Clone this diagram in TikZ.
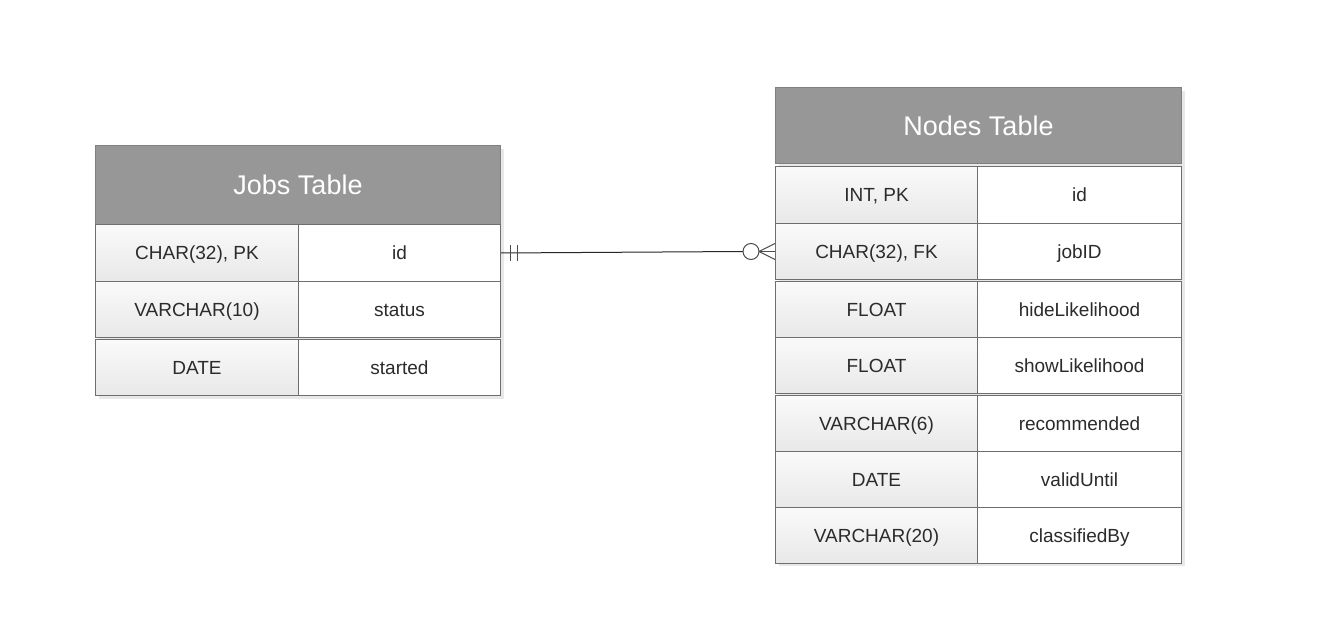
\documentclass[tikz,border=0pt]{standalone}
\usepackage{fontspec}
\setmainfont{Liberation Sans}
\usetikzlibrary{calc}
\definecolor{hdr}{HTML}{979797}
\definecolor{bord}{HTML}{6E6E6E}
\definecolor{txt}{HTML}{2B2B2B}
\definecolor{shad}{HTML}{E8E8E8}
\tikzset{
  hdrbox/.style={draw=hdr!85!black, fill=hdr, line width=1pt, rectangle, inner sep=0pt, anchor=north west,
    text=white, font=\fontsize{27}{32}\selectfont, text height=22pt, text depth=2pt},
  typecell/.style={draw=bord, line width=1pt, rectangle, inner sep=0pt, anchor=north west,
    top color=black!2, bottom color=black!9, text=txt, font=\fontsize{19}{23}\selectfont,
    text height=16pt, text depth=2pt},
  namecell/.style={draw=bord, line width=1pt, rectangle, inner sep=0pt, anchor=north west,
    fill=white, text=txt, font=\fontsize{19}{23}\selectfont, text height=16pt, text depth=2pt},
  shadowbox/.style={fill=shad, draw=none},
  relline/.style={line width=1pt, draw=black!85},
  relmark/.style={line width=1pt, draw=black!70}
}
\begin{document}
\begin{tikzpicture}[x=1pt,y=-1pt]
\useasboundingbox[fill=white] (0,0) rectangle (1320,628);
% shadows
\fill[shadowbox] (99,149) rectangle (504,399);
\fill[shadowbox] (779,91) rectangle (1185,566);
% Jobs table
\node[hdrbox, minimum width=405pt, minimum height=79pt] (jh) at (95,145) {Jobs Table};
\node[typecell, minimum width=203pt, minimum height=57pt] (jt1) at (95,224) {CHAR(32), PK};
\node[namecell, minimum width=202pt, minimum height=57pt] (jn1) at (298,224) {id};
\node[typecell, minimum width=203pt, minimum height=56pt] (jt2) at (95,281) {VARCHAR(10)};
\node[namecell, minimum width=202pt, minimum height=56pt] (jn2) at (298,281) {status};
\node[typecell, minimum width=203pt, minimum height=56pt] (jt3) at (95,339) {DATE};
\node[namecell, minimum width=202pt, minimum height=56pt] (jn3) at (298,339) {started};
% Nodes table
\node[hdrbox, minimum width=406pt, minimum height=76pt] (nh) at (775,87) {Nodes Table};
\node[typecell, minimum width=202pt, minimum height=57pt] (nt1) at (775,166) {INT, PK};
\node[namecell, minimum width=204pt, minimum height=57pt] (nn1) at (977,166) {id};
\node[typecell, minimum width=202pt, minimum height=56pt] (nt2) at (775,223) {CHAR(32), FK};
\node[namecell, minimum width=204pt, minimum height=56pt] (nn2) at (977,223) {jobID};
\node[typecell, minimum width=202pt, minimum height=56pt] (nt3) at (775,281) {FLOAT};
\node[namecell, minimum width=204pt, minimum height=56pt] (nn3) at (977,281) {hideLikelihood};
\node[typecell, minimum width=202pt, minimum height=56pt] (nt4) at (775,337) {FLOAT};
\node[namecell, minimum width=204pt, minimum height=56pt] (nn4) at (977,337) {showLikelihood};
\node[typecell, minimum width=202pt, minimum height=56pt] (nt5) at (775,395) {VARCHAR(6)};
\node[namecell, minimum width=204pt, minimum height=56pt] (nn5) at (977,395) {recommended};
\node[typecell, minimum width=202pt, minimum height=56pt] (nt6) at (775,451) {DATE};
\node[namecell, minimum width=204pt, minimum height=56pt] (nn6) at (977,451) {validUntil};
\node[typecell, minimum width=202pt, minimum height=56pt] (nt7) at (775,507) {VARCHAR(20)};
\node[namecell, minimum width=204pt, minimum height=56pt] (nn7) at (977,507) {classifiedBy};
% relationship
\coordinate (circ) at ($(nt2.west)+(-24,0)$);
\draw[relline] (jn1.east) -- ($(circ)+(-8,0)$);
\draw[relmark] ($(jn1.east)+(9,-8)$) -- ($(jn1.east)+(9,8)$);
\draw[relmark] ($(jn1.east)+(16,-8)$) -- ($(jn1.east)+(16,8)$);
\draw[relmark, fill=white] (circ) circle (8pt);
\draw[relmark] ($(circ)+(8,0)$) -- ($(nt2.west)+(0,-8)$);
\draw[relmark] ($(circ)+(8,0)$) -- ($(nt2.west)+(0,8)$);
\draw[relmark] ($(circ)+(8,0)$) -- (nt2.west);
\end{tikzpicture}
\end{document}
